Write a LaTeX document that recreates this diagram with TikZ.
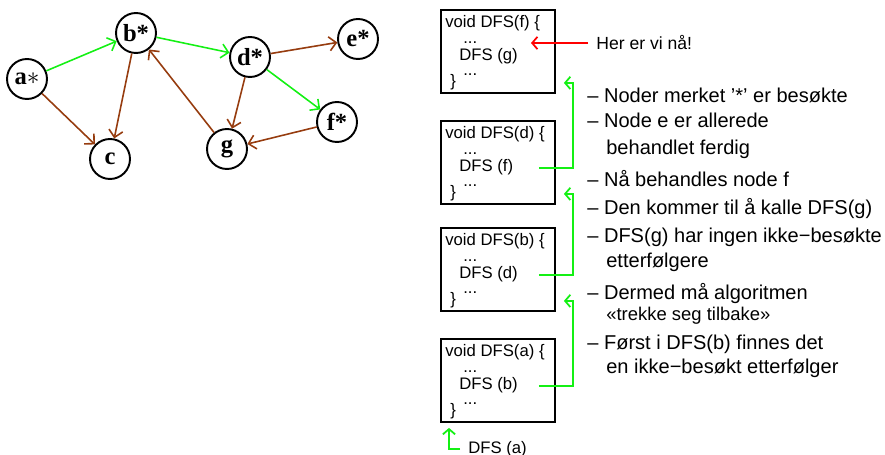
\documentclass[tikz,border=0pt]{standalone}
\usepackage{fontspec}
\setmainfont{Liberation Sans}
\newfontfamily\graphfont{Liberation Serif}
\usepackage{xcolor}
\usepackage{tikz}
\usetikzlibrary{arrows.meta, positioning}
\definecolor{visitgreen}{RGB}{20,240,20}
\definecolor{edgebrown}{RGB}{150,60,15}
\tikzstyle{vertex} = [circle, draw=black, line width=1.1pt, minimum size=0.8cm, inner sep=0pt, font=\graphfont\bfseries\fontsize{14}{16}\selectfont]
\tikzstyle{treeedge} = [draw=visitgreen, line width=0.9pt, -{Straight Barb[length=4pt,width=8pt]}]
\tikzstyle{otheredge} = [draw=edgebrown, line width=0.9pt, -{Straight Barb[length=4pt,width=8pt]}]
\tikzstyle{frame} = [rectangle, draw=black, line width=1.1pt, minimum width=2.28cm, minimum height=1.66cm, anchor=north west]
\tikzstyle{code} = [font=\fontsize{9.5}{11}\selectfont, inner sep=0pt, anchor=base west]
\tikzstyle{note} = [font=\fontsize{11.4}{13}\selectfont, inner sep=0pt, anchor=base west]
\tikzstyle{callarrow} = [draw=visitgreen, line width=1pt, -{Straight Barb[length=3pt,width=7pt]}]
\tikzstyle{herearrow} = [draw=red, line width=1pt, -{Straight Barb[length=3pt,width=7pt]}]

\begin{document}
\begin{tikzpicture}[x=0.02cm, y=-0.02cm]
		\useasboundingbox (0,0) rectangle (885,455);
		% graph
		\node (a)[vertex] at (27,79) {a$\ast$};
		\node (b)[vertex] at (136,33) {b*};
		\node (c)[vertex] at (110,159) {c};
		\node (d)[vertex] at (250,57) {d*};
		\node (e)[vertex] at (358,39) {e*};
		\node (f)[vertex] at (337,122) {f*};
		\node (g)[vertex] at (227,149) {g};
		\draw [treeedge] (a) -- (b);
		\draw [treeedge] (b) -- (d);
		\draw [treeedge] (d) -- (f);
		\draw [otheredge] (a) -- (c);
		\draw [otheredge] (b) -- (c);
		\draw [otheredge] (d) -- (e);
		\draw [otheredge] (d) -- (g);
		\draw [otheredge] (f) -- (g);
		\draw [otheredge] (g) -- (b);
		% call stack
		\foreach \caller/\callee/\ytop in {f/g/9, d/f/120, b/d/227, a/b/338} {
			\node (box\caller)[frame] at (440,\ytop) {};
			\node [code] at (445,\ytop+19) {void DFS(\caller) \{};
			\node [code] at (463,\ytop+35) {...};
			\node (call\caller)[code] at (459,\ytop+52) {DFS (\callee)};
			\node [code] at (463,\ytop+67) {...};
			\node [code] at (450,\ytop+78) {\}};
		}
		\draw [callarrow] (calld.east -| boxd.east) ++(-17,0) -- ++(34,0) |- ([shift={(8,-11)}]boxf.south east);
		\draw [callarrow] (callb.east -| boxb.east) ++(-17,0) -- ++(34,0) |- ([shift={(8,-11)}]boxd.south east);
		\draw [callarrow] (calla.east -| boxa.east) ++(-17,0) -- ++(34,0) |- ([shift={(8,-11)}]boxb.south east);
		\node (start)[code] at (468,453) {DFS (a)};
		\draw [callarrow] (start.west) ++(-8,0) -| ([shift={(9,5)}]boxa.south west);
		\node (here)[code, font=\fontsize{10}{12}\selectfont, anchor=west] at (596,43) {Her er vi nå!};
		\coordinate (herepoint) at (531,43);
		\draw [herearrow] (here.west) ++(-8,0) -- (herepoint);
		% notes
		\node (note1)[note] at (587,103) {– Noder merket '*' er besøkte};
		\node (note2)[note] at (587,128) {– Node e er allerede};
		\node (note3)[note] at (606,155) {behandlet ferdig};
		\node (note4)[note] at (587,187) {– Nå behandles node f};
		\node (note5)[note] at (587,215) {– Den kommer til å kalle DFS(g)};
		\node (note6)[note] at (587,243) {– DFS(g) har ingen ikke−besøkte};
		\node (note7)[note] at (606,268) {etterfølgere};
		\node (note8)[note] at (587,300) {– Dermed må algoritmen};
		\node (note9)[note, font=\fontsize{10.5}{12}\selectfont] at (606,321) {«trekke seg tilbake»};
		\node (note10)[note] at (587,350) {– Først i DFS(b) finnes det};
		\node (note11)[note] at (606,374) {en ikke−besøkt etterfølger};
	\end{tikzpicture}
\end{document}
